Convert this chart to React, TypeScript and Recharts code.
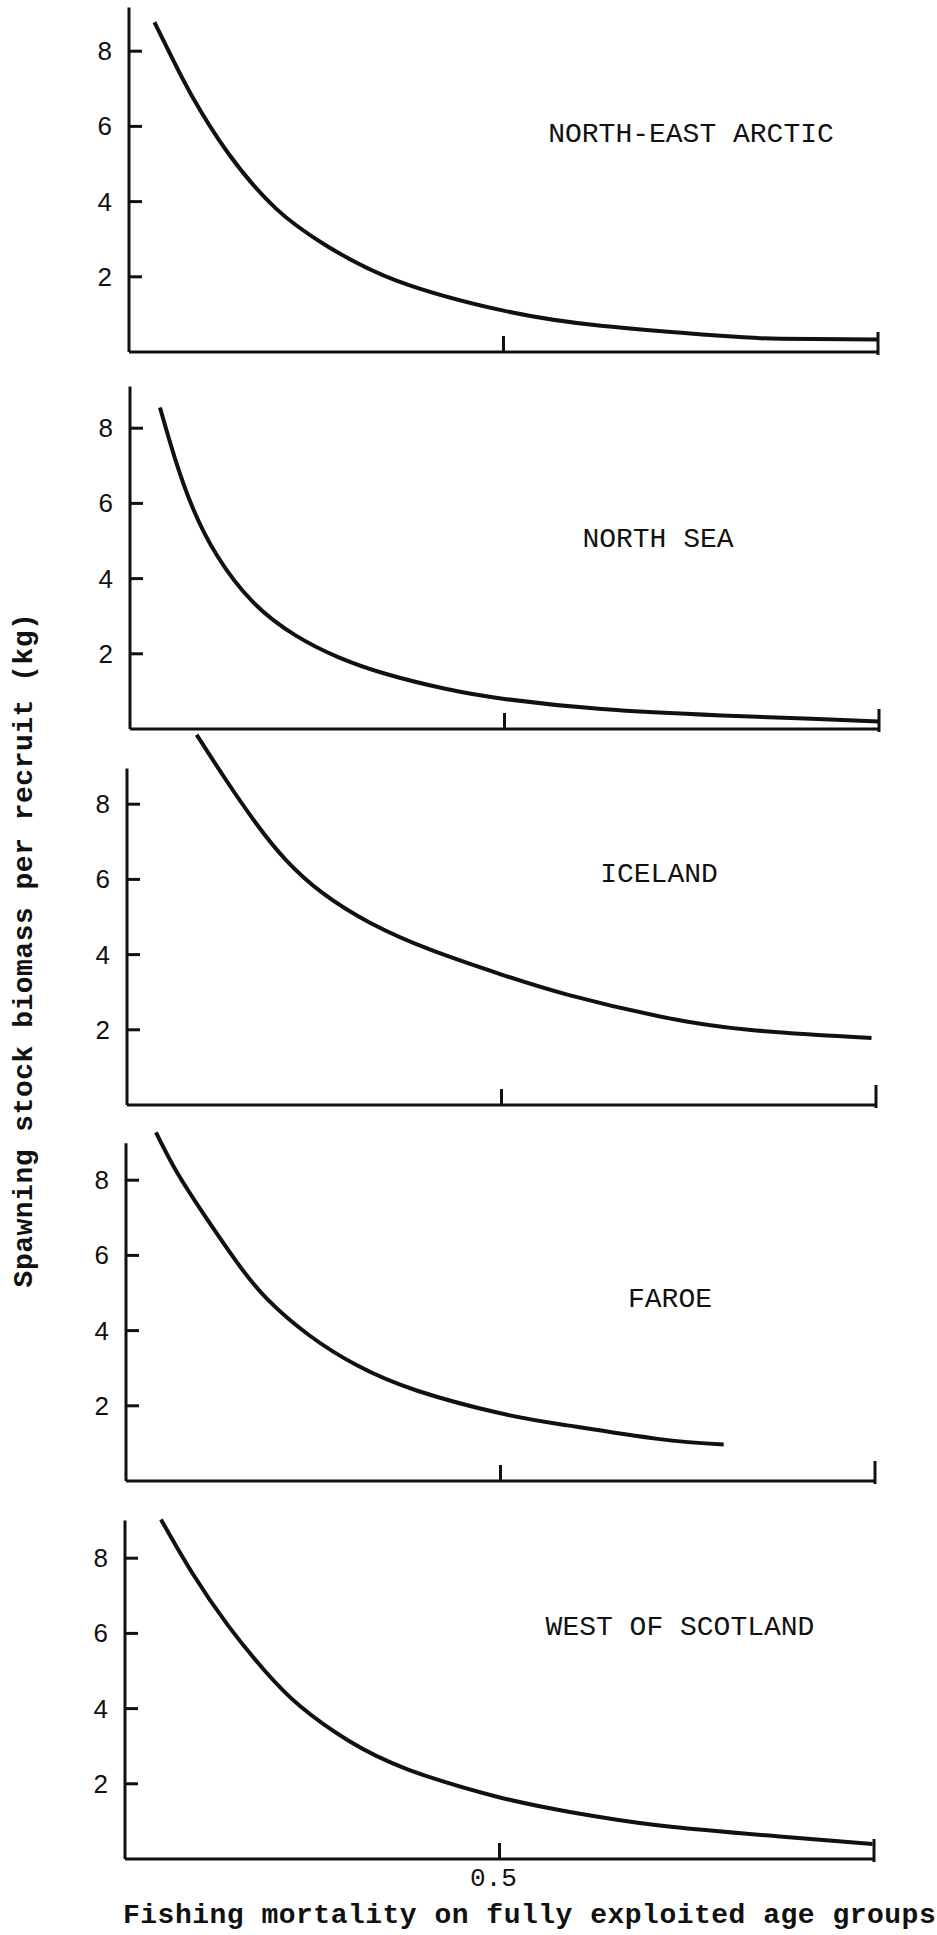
import React from 'react';
import { LineChart, Line, XAxis, YAxis, ReferenceLine } from 'recharts';

// fishing mortality (F) / spawning stock biomass per recruit (kg)
const neArcticF = [0.034, 0.06, 0.084, 0.132, 0.196, 0.261, 0.357, 0.5, 0.63, 0.79, 0.87, 1.0];
const neArcticSSB = [8.77, 7.72, 6.81, 5.3, 3.82, 2.86, 1.9, 1.1, 0.7, 0.43, 0.35, 0.33];

const northSeaF = [0.04, 0.06, 0.084, 0.116, 0.164, 0.221, 0.277, 0.341, 0.421, 0.5, 0.63, 0.79, 0.91, 1.0];
const northSeaSSB = [8.55, 7.2, 5.87, 4.62, 3.38, 2.49, 1.92, 1.47, 1.07, 0.8, 0.53, 0.36, 0.27, 0.2];

const icelandF = [0.093, 0.1, 0.132, 0.172, 0.212, 0.261, 0.325, 0.405, 0.5, 0.589, 0.71, 0.83, 0.994];
const icelandSSB = [9.85, 9.63, 8.65, 7.5, 6.52, 5.64, 4.84, 4.13, 3.47, 2.93, 2.36, 2.0, 1.78];

const faroeF = [0.04, 0.068, 0.108, 0.148, 0.188, 0.245, 0.309, 0.389, 0.5, 0.589, 0.71, 0.798];
const faroeSSB = [9.27, 8.21, 6.97, 5.82, 4.85, 3.87, 3.07, 2.4, 1.8, 1.48, 1.12, 0.97];

const westScotlandF = [0.048, 0.09, 0.138, 0.186, 0.234, 0.298, 0.378, 0.498, 0.594, 0.714, 0.874, 0.998];
const westScotlandSSB = [9.03, 7.6, 6.2, 5.02, 4.06, 3.15, 2.38, 1.65, 1.25, 0.89, 0.6, 0.4];

const yTicks = [2, 4, 6, 8];
const xTicks = [0.5, 1];

const INK = '#111';
const MONO = "'Courier New', 'Liberation Mono', monospace";
const SANS = "'Liberation Sans', Arial, sans-serif";

const PLOT_W = 749;
const PLOT_H = 376; // 0..10 kg
const TOP = 10;
const XAXIS_H = 40;

const toRows = (f: number[], ssb: number[]) => f.map((v, i) => ({ f: v, ssb: ssb[i] }));

const panels = [
  { name: 'NORTH-EAST ARCTIC', rows: toRows(neArcticF, neArcticSSB), left: 129, base: 352, axisTop: 9.16, lx: 691, ly: 142 },
  { name: 'NORTH SEA', rows: toRows(northSeaF, northSeaSSB), left: 130, base: 729, axisTop: 9.11, lx: 658, ly: 547 },
  { name: 'ICELAND', rows: toRows(icelandF, icelandSSB), left: 127, base: 1105, axisTop: 8.95, lx: 659, ly: 882 },
  { name: 'FAROE', rows: toRows(faroeF, faroeSSB), left: 126, base: 1481, axisTop: 8.98, lx: 670, ly: 1307 },
  { name: 'WEST OF SCOTLAND', rows: toRows(westScotlandF, westScotlandSSB), left: 125, base: 1859, axisTop: 9.0, lx: 680, ly: 1635 },
];

const YTick = ({ x, y, payload }: any) => (
  <g>
    <line x1={x} y1={y} x2={x + 13} y2={y} stroke={INK} strokeWidth={3} />
    <text x={x - 17} y={y + 9} textAnchor="end" fontFamily={SANS} fontSize={26} fill={INK}>
      {payload.value}
    </text>
  </g>
);

const makeXTick = (showLabel: boolean) => ({ x, y, payload }: any) => {
  const isEnd = payload.value === 1;
  return (
    <g>
      <line x1={x} y1={isEnd ? y + 3 : y} x2={x} y2={y - (isEnd ? 20 : 16)} stroke={INK} strokeWidth={3} />
      {showLabel && !isEnd && (
        <text x={x - 6} y={y + 27} textAnchor="middle" fontFamily={MONO} fontSize={26} fill={INK}>
          {payload.value}
        </text>
      )}
    </g>
  );
};

export default function App() {
  return (
    <div style={{ position: 'absolute', left: 0, top: 0, width: 937, height: 1935, background: '#fff', overflow: 'hidden' }}>
      {panels.map((p, i) => {
        const XTick = makeXTick(i === panels.length - 1);
        return (
          <div key={p.name} style={{ position: 'absolute', left: 0, top: p.base - PLOT_H - TOP }}>
            <LineChart
              width={937}
              height={TOP + PLOT_H + XAXIS_H}
              data={p.rows}
              margin={{ top: TOP, right: 937 - p.left - PLOT_W, bottom: 0, left: 0 }}
            >
              <XAxis
                dataKey="f"
                type="number"
                domain={[0, 1]}
                ticks={xTicks}
                height={XAXIS_H}
                axisLine={{ stroke: INK, strokeWidth: 3 }}
                tickLine={false}
                tickSize={0}
                tickMargin={0}
                tick={<XTick />}
              />
              <YAxis
                type="number"
                domain={[0, 10]}
                ticks={yTicks}
                width={p.left}
                axisLine={false}
                tickLine={false}
                tickSize={0}
                tickMargin={0}
                tick={<YTick />}
              />
              <ReferenceLine
                segment={[{ x: 0, y: 0 }, { x: 0, y: p.axisTop }]}
                stroke={INK}
                strokeWidth={3}
              />
              <Line
                type="natural"
                dataKey="ssb"
                stroke={INK}
                strokeWidth={4}
                dot={false}
                isAnimationActive={false}
              />
            </LineChart>
          </div>
        );
      })}
      <svg width={937} height={1935} style={{ position: 'absolute', left: 0, top: 0, pointerEvents: 'none' }}>
        {panels.map((p) => (
          <text key={p.name} x={p.lx} y={p.ly} textAnchor="middle" fontFamily={MONO} fontSize={28} fill={INK}>
            {p.name}
          </text>
        ))}
        <text
          x={32}
          y={950}
          transform="rotate(-90 32 950)"
          textAnchor="middle"
          fontFamily={MONO}
          fontWeight="bold"
          fontSize={28}
          letterSpacing={0.5}
          fill={INK}
        >
          Spawning stock biomass per recruit (kg)
        </text>
        <text x={123} y={1923} fontFamily={MONO} fontWeight="bold" fontSize={28} letterSpacing={0.5} fill={INK}>
          Fishing mortality on fully exploited age groups
        </text>
      </svg>
    </div>
  );
}
